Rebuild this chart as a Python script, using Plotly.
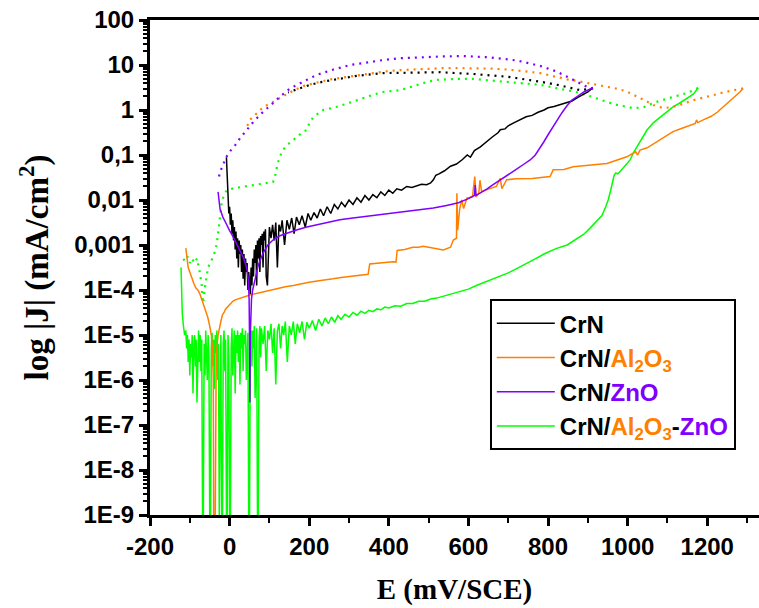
import plotly.graph_objects as go

# Colores de cada recubrimiento
NEGRO = "#000000"
NARANJA = "#FF8000"
VIOLETA = "#8000FF"
VERDE = "#00FF00"

# ---------------- CrN ----------------
# barrido directo (E en mV/SCE, log10 de |J| en mA/cm2)
crn_e = [-8, -6, -4, -2, 0, 2, 4, 6, 8, 10, 12, 14, 16, 18, 20, 22, 24, 26, 28, 30,
         32, 34, 36, 38, 40, 42, 44, 46, 48, 50, 52, 54, 56, 58, 60, 62, 64, 66, 68, 70,
         72, 74, 76, 78, 80, 82, 84, 86, 88, 90, 92, 95, 98, 100, 104, 108, 112, 116, 120, 124,
         128, 132, 138, 144, 150, 156, 162, 168, 175, 182, 190, 197, 204, 212, 220, 228, 236, 245, 254, 263,
         272, 281, 290, 300, 310, 320, 330, 340, 350, 360, 370, 380, 390, 400, 410, 420, 432, 445, 458, 470,
         482, 495, 505, 512, 518, 526, 540, 555, 570, 585, 597, 605, 615, 630, 645, 660, 675, 680, 692, 700,
         715, 730, 745, 760, 775, 790, 800, 815, 830, 845, 860, 875, 890, 900, 912]
crn_logj = [-1.05, -1.6, -2.0, -2.3, -2.15, -2.55, -2.3, -2.75, -2.45, -2.9, -2.6, -3.1, -2.7, -3.3, -2.85, -3.5, -2.9, -3.2, -3.0, -3.6,
            -3.1, -3.75, -3.2, -3.9, -3.3, -3.6, -3.4, -4.0, -3.6, -3.8, -4.1, -3.5, -3.9, -3.3, -3.7, -3.1, -3.4, -3.0, -3.9, -2.9,
            -3.3, -2.85, -3.6, -2.8, -3.0, -2.75, -3.5, -2.7, -2.9, -2.65, -3.7, -3.9, -2.7, -2.6, -2.85, -2.55, -2.9, -2.5, -3.5, -2.55,
            -2.7, -2.45, -3.0, -2.45, -2.65, -2.4, -2.75, -2.38, -2.55, -2.35, -2.6, -2.3, -2.45, -2.28, -2.4, -2.2, -2.35, -2.15, -2.3, -2.1,
            -2.2, -2.05, -2.15, -2.0, -2.1, -1.95, -2.05, -1.9, -2.0, -1.88, -1.95, -1.82, -1.9, -1.78, -1.85, -1.75, -1.78, -1.7, -1.72, -1.68,
            -1.65, -1.66, -1.62, -1.55, -1.45, -1.42, -1.35, -1.25, -1.2, -1.1, -1.0, -1.05, -0.9, -0.82, -0.7, -0.6, -0.5, -0.44, -0.42, -0.35,
            -0.28, -0.22, -0.15, -0.12, -0.05, 0.0, 0.05, 0.08, 0.12, 0.15, 0.2, 0.28, 0.35, 0.4, 0.49]
# barrido inverso
crn_e_inv = [913, 881, 823, 780, 697, 612, 529, 471, 386, 320, 269, 235, 202, 177, 147]
crn_logj_inv = [0.48, 0.44, 0.56, 0.63, 0.74, 0.8, 0.84, 0.83, 0.82, 0.76, 0.68, 0.63, 0.56, 0.48, 0.39]

# ---------------- CrN/Al2O3 ----------------
al_e = [-110, -107, -104, -100, -95, -90, -85, -80, -75, -70, -65, -60, -55, -50, -46, -43, -41, -40, -38, -36,
        -34, -32, -29, -26, -22, -18, -14, -10, -6, -2, 3, 8, 14, 20, 26, 35, 45, 55, 70, 85,
        100, 120, 140, 160, 180, 200, 220, 240, 260, 280, 300, 320, 340, 348, 352, 370, 390, 410, 418, 421,
        440, 460, 475, 486, 500, 520, 537, 555, 562, 570, 571, 573, 578, 583, 588, 596, 610, 616, 619, 626,
        629, 633, 654, 670, 680, 684, 696, 720, 760, 805, 813, 840, 863, 900, 948, 998, 1014, 1020, 1025, 1031,
        1049, 1065, 1080, 1095, 1114, 1135, 1155, 1170, 1173, 1176, 1190, 1210, 1225, 1240, 1255, 1270, 1282, 1290]
al_logj = [-3.07, -3.3, -3.5, -3.6, -3.75, -3.85, -3.95, -4.0, -4.08, -4.2, -4.35, -4.45, -4.6, -4.8, -5.0, -5.3, -6.0, -9.0, -9.0, -9.0,
           -6.0, -5.3, -5.0, -4.85, -4.7, -4.55, -4.5, -4.42, -4.38, -4.33, -4.3, -4.25, -4.22, -4.2, -4.18, -4.15, -4.12, -4.1, -4.07, -4.04,
           -4.0, -3.97, -3.93, -3.9, -3.86, -3.83, -3.8, -3.78, -3.75, -3.72, -3.7, -3.68, -3.66, -3.65, -3.42, -3.4, -3.38, -3.37, -3.38, -3.12,
           -3.1, -3.05, -3.05, -3.03, -3.05, -3.08, -3.11, -3.05, -2.89, -2.85, -1.85, -2.67, -2.2, -2.0, -2.19, -1.96, -1.93, -1.48, -1.93, -1.85,
           -1.56, -1.81, -1.74, -1.7, -1.52, -1.75, -1.55, -1.53, -1.52, -1.48, -1.33, -1.32, -1.26, -1.23, -1.19, -1.04, -0.96, -0.93, -1.0, -0.89,
           -0.84, -0.75, -0.68, -0.58, -0.48, -0.41, -0.34, -0.3, -0.22, -0.28, -0.22, -0.14, -0.05, 0.07, 0.17, 0.3, 0.4, 0.48]
al_e_inv = [1290, 1265, 1240, 1215, 1190, 1165, 1140, 1114, 1090, 1065, 1048, 1031, 1015, 998, 975, 948, 920, 898, 870, 848,
            815, 780, 740, 697, 655, 612, 575, 536, 500, 471, 437, 403, 370, 340, 320, 285, 252, 220, 185, 160,
            134, 109, 84, 69, 51, 44]
al_logj_inv = [0.48, 0.44, 0.39, 0.33, 0.28, 0.22, 0.14, 0.07, 0.04, 0.11, 0.19, 0.26, 0.34, 0.41, 0.47, 0.52, 0.57, 0.61, 0.65, 0.68,
               0.75, 0.82, 0.86, 0.9, 0.92, 0.93, 0.93, 0.93, 0.92, 0.9, 0.89, 0.87, 0.83, 0.79, 0.76, 0.73, 0.68, 0.61, 0.53, 0.43,
               0.31, 0.18, 0.06, -0.07, -0.22, -0.36]

# ---------------- CrN/ZnO ----------------
zn_e = [-29, -27, -24, -20, -17, -10, -5, 0, 9, 15, 20, 27, 34, 40, 44, 47, 49, 50, 51, 52,
        53, 55, 58, 64, 72, 84, 96, 109, 125, 140, 152, 170, 194, 220, 250, 277, 310, 345, 385, 428,
        470, 512, 545, 575, 600, 615, 617, 619, 630, 646, 662, 680, 700, 720, 740, 755, 768, 780, 790, 800,
        812, 823, 835, 848, 860, 873, 890, 906, 913]
zn_logj = [-1.82, -2.0, -2.2, -2.3, -2.38, -2.5, -2.6, -2.68, -2.82, -2.92, -3.02, -3.14, -3.27, -3.42, -3.55, -3.78, -4.2, -5.0, -6.5, -5.0,
           -4.5, -4.2, -4.0, -3.78, -3.45, -3.18, -3.0, -2.89, -2.8, -2.75, -2.71, -2.66, -2.6, -2.55, -2.5, -2.44, -2.4, -2.36, -2.31, -2.27,
           -2.22, -2.18, -2.12, -2.06, -1.97, -1.9, -1.67, -1.9, -1.84, -1.76, -1.66, -1.56, -1.44, -1.32, -1.2, -1.11, -1.0, -0.85, -0.7, -0.55,
           -0.38, -0.22, -0.06, 0.1, 0.22, 0.3, 0.4, 0.47, 0.49]
zn_e_inv = [913, 906, 881, 856, 823, 780, 722, 654, 587, 537, 470, 428, 386, 345, 303, 261, 219, 185, 152, 127,
            102, 81, 60, 43, 26, 14, -3, -12, -17, -24, -28]
zn_logj_inv = [0.49, 0.48, 0.59, 0.7, 0.85, 0.98, 1.1, 1.17, 1.2, 1.19, 1.17, 1.15, 1.11, 1.05, 1.0, 0.9, 0.78, 0.63, 0.48, 0.3,
               0.11, -0.07, -0.26, -0.44, -0.63, -0.78, -0.96, -1.11, -1.24, -1.37, -1.54]

# ---------------- CrN/Al2O3-ZnO ----------------
mix_e = [-122, -121, -119, -116, -113, -110, -108, -106, -104, -102, -100, -98, -96, -94, -92, -90, -88, -86, -84, -82,
         -80, -78, -76, -74, -72, -70, -68, -66, -64, -62, -60, -58, -56, -54, -52, -50, -48, -46, -44, -42,
         -40, -38, -36, -34, -32, -30, -28, -26, -24, -22, -20, -18, -16, -14, -12, -10, -8, -6, -4, -2,
         0, 2, 4, 6, 8, 10, 12, 14, 16, 18, 20, 22, 24, 26, 28, 30, 32, 34, 36, 38,
         40, 42, 44, 46, 48, 50, 52, 54, 56, 58, 60, 62, 64, 66, 68, 70, 72, 74, 76, 78,
         80, 84, 88, 92, 96, 100, 104, 108, 112, 116, 120, 124, 128, 132, 136, 140, 145, 150, 155, 160,
         165, 170, 176, 182, 188, 194, 200, 208, 216, 224, 232, 240, 248, 256, 264, 272, 280, 290, 300, 310,
         320, 330, 340, 350, 360, 370, 380, 390, 400, 415, 430, 445, 460, 475, 490, 505, 520, 540, 560, 580,
         600, 620, 640, 660, 680, 700, 720, 740, 763, 790, 820, 848, 870, 890, 905, 920, 935, 945, 951, 957,
         962, 966, 970, 975, 980, 990, 1006, 1014, 1030, 1049, 1065, 1082, 1100, 1114, 1130, 1150, 1165, 1177]
mix_logj = [-3.5, -4.1, -4.5, -4.8, -5.0, -4.9, -5.3, -5.0, -5.6, -5.1, -5.9, -5.2, -5.5, -5.0, -6.3, -5.3, -5.0, -5.7, -5.1, -6.5,
            -5.2, -4.9, -5.6, -5.0, -5.8, -5.1, -9.0, -9.0, -5.2, -5.9, -4.9, -5.4, -6.0, -5.0, -5.5, -9.0, -9.0, -5.3, -4.95, -5.7,
            -5.1, -6.2, -5.0, -5.4, -4.9, -6.0, -5.2, -9.0, -5.3, -5.0, -9.0, -9.0, -5.2, -4.9, -5.8, -5.1, -9.0, -9.0, -5.0, -5.5,
            -9.0, -9.0, -5.3, -4.85, -5.9, -5.1, -4.9, -6.3, -5.0, -5.4, -4.9, -5.6, -5.0, -6.1, -4.95, -5.3, -4.85, -5.8, -5.0, -5.2,
            -4.9, -6.0, -5.1, -4.95, -9.0, -9.0, -5.2, -4.9, -5.7, -4.9, -5.3, -4.8, -6.4, -5.0, -4.85, -9.0, -9.0, -5.1, -4.8, -5.5,
            -4.85, -5.2, -4.8, -5.8, -4.9, -5.1, -4.75, -5.4, -4.85, -6.1, -4.9, -4.75, -5.3, -4.8, -5.0, -4.7, -5.6, -4.8, -5.0, -4.7,
            -5.2, -4.75, -4.95, -4.7, -5.1, -4.72, -4.85, -4.68, -4.9, -4.65, -4.8, -4.62, -4.75, -4.6, -4.72, -4.57, -4.65, -4.54, -4.6, -4.5,
            -4.56, -4.47, -4.52, -4.45, -4.48, -4.42, -4.44, -4.38, -4.4, -4.35, -4.36, -4.3, -4.3, -4.25, -4.25, -4.2, -4.18, -4.13, -4.08, -4.03,
            -3.98, -3.9, -3.83, -3.76, -3.7, -3.62, -3.53, -3.43, -3.33, -3.2, -3.08, -3.0, -2.88, -2.76, -2.63, -2.5, -2.35, -2.15, -2.0, -1.8,
            -1.6, -1.45, -1.4, -1.42, -1.38, -1.28, -1.11, -0.96, -0.72, -0.44, -0.28, -0.16, -0.03, 0.07, 0.15, 0.27, 0.35, 0.49]
mix_e_inv = [1177, 1150, 1114, 1082, 1065, 1040, 1015, 998, 970, 948, 920, 898, 870, 848, 810, 780, 740, 697, 650, 612,
             570, 540, 521, 495, 471, 450, 428, 405, 386, 365, 345, 325, 310, 290, 277, 255, 235, 222, 210, 200,
             194, 180, 169, 160, 152, 142, 134, 126, 121, 117, 113, 109, 95, 80, 69, 50, 26, 10, -7, -15,
             -20, -23, -25, -28, -32, -37, -42, -48, -54, -58, -62, -65, -67, -70, -75, -82, -88, -95, -100, -106,
             -112, -118, -122]
mix_logj_inv = [0.49, 0.38, 0.29, 0.2, 0.16, 0.06, 0.04, 0.07, 0.12, 0.18, 0.27, 0.33, 0.4, 0.44, 0.52, 0.56, 0.59, 0.62, 0.66, 0.69,
                0.69, 0.68, 0.67, 0.62, 0.56, 0.5, 0.44, 0.42, 0.4, 0.35, 0.29, 0.24, 0.2, 0.13, 0.09, 0.04, 0.0, -0.08, -0.16, -0.3,
                -0.44, -0.52, -0.6, -0.66, -0.71, -0.8, -0.89, -1.04, -1.18, -1.35, -1.52, -1.6, -1.62, -1.64, -1.65, -1.68, -1.71, -1.74, -1.78, -1.9,
                -2.07, -2.3, -2.51, -2.75, -2.96, -3.15, -3.27, -3.4, -3.49, -3.7, -3.95, -4.2, -4.29, -3.9, -3.6, -3.3, -3.4, -3.3, -3.4, -3.25,
                -3.35, -3.3, -3.28]

# Ejes
y_tickvals = [1e2, 1e1, 1e0, 1e-1, 1e-2, 1e-3, 1e-4, 1e-5, 1e-6, 1e-7, 1e-8, 1e-9]
y_ticktext = ["100", "10", "1", "0,1", "0,01", "0,001", "1E-4", "1E-5", "1E-6", "1E-7", "1E-8", "1E-9"]
x_tickvals = [-200, 0, 200, 400, 600, 800, 1000, 1200]
x_ticktext = ["-200", "0", "200", "400", "600", "800", "1000", "1200"]
# ticks menores del eje log (2..9 en cada década)
y_minor = [m * 10.0 ** k for k in range(-9, 2) for m in range(2, 10)]

etiquetas = [
    "CrN",
    "CrN/<span style='color:%s'>Al<sub>2</sub>O<sub>3</sub></span>" % NARANJA,
    "CrN/<span style='color:%s'>ZnO</span>" % VIOLETA,
    "CrN/<span style='color:%s'>Al<sub>2</sub>O<sub>3</sub></span>-<span style='color:%s'>ZnO</span>" % (NARANJA, VIOLETA),
]


def a_j(valores):
    # pasar de log10 a densidad de corriente
    return [10 ** v for v in valores]


punteado = "2px,5px"

fig = go.Figure()

# orden de dibujo: verde, negro, naranja, violeta
series = [
    (mix_e, mix_logj, mix_e_inv, mix_logj_inv, VERDE, etiquetas[3], 4),
    (crn_e, crn_logj, crn_e_inv, crn_logj_inv, NEGRO, etiquetas[0], 1),
    (al_e, al_logj, al_e_inv, al_logj_inv, NARANJA, etiquetas[1], 2),
    (zn_e, zn_logj, zn_e_inv, zn_logj_inv, VIOLETA, etiquetas[2], 3),
]

for e_d, j_d, e_i, j_i, color, nombre, rango in series:
    fig.add_trace(go.Scatter(
        x=e_i, y=a_j(j_i), mode="lines",
        line=dict(color=color, width=2.2, dash=punteado),
        showlegend=False, hoverinfo="skip"
    ))
    fig.add_trace(go.Scatter(
        x=e_d, y=a_j(j_d), mode="lines",
        line=dict(color=color, width=1.5),
        name=nombre, legendrank=rango
    ))

fuente_ticks = dict(family="Liberation Sans, Arial", size=24, color="black", weight="bold")

fig.update_layout(
    width=759, height=608,
    margin=dict(l=150, r=0, t=20, b=93, autoexpand=False),
    paper_bgcolor="white",
    plot_bgcolor="white",
    xaxis=dict(
        range=[-200, 1330],
        tickmode="array", tickvals=x_tickvals, ticktext=x_ticktext,
        ticks="outside", ticklen=8, tickwidth=3, tickcolor="black",
        minor=dict(tickmode="linear", dtick=100, tick0=-200, ticks="outside", ticklen=5, tickwidth=2, tickcolor="black"),
        showline=True, linewidth=3, linecolor="black", mirror=True,
        showgrid=False, zeroline=False,
        tickfont=fuente_ticks, ticklabeloverflow="allow",
        title=dict(text="E (mV/SCE)",
                   font=dict(family="Liberation Serif, Times New Roman", size=29, color="black", weight="bold"),
                   standoff=20),
    ),
    yaxis=dict(
        type="log", range=[-9, 2],
        tickmode="array", tickvals=y_tickvals, ticktext=y_ticktext,
        ticks="outside", ticklen=8, tickwidth=3, tickcolor="black",
        minor=dict(tickmode="array", tickvals=y_minor, ticks="outside", ticklen=4, tickwidth=2, tickcolor="black"),
        showline=True, linewidth=3, linecolor="black",
        showgrid=False, zeroline=False,
        tickfont=fuente_ticks, ticklabeloverflow="allow",
        title=dict(text="log |J| (mA/cm<sup>2</sup>)",
                   font=dict(family="Liberation Serif, Times New Roman", size=33, color="black", weight="bold"),
                   standoff=16),
    ),
    legend=dict(
        x=0.558, y=0.436, xanchor="left", yanchor="top",
        bgcolor="white", bordercolor="black", borderwidth=2,
        font=dict(family="Liberation Sans, Arial", size=24, color="black", weight="bold"),
        itemwidth=58, traceorder="normal",
    ),
)

# quitar el margen por defecto del body para que la figura ocupe toda la ventana
fig.write_html("out.html", config={"displayModeBar": False},
               post_script="document.body.style.margin = '0';")
